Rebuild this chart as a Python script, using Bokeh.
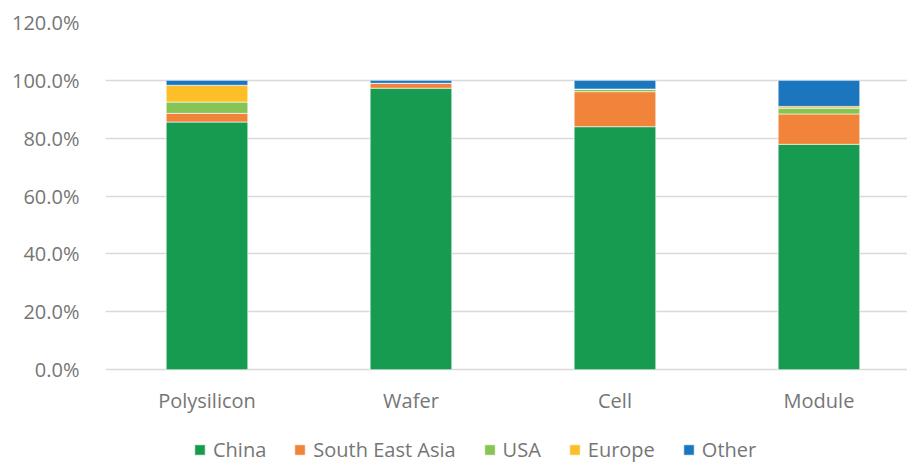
from bokeh.plotting import figure
from bokeh.models import (Range1d, FixedTicker, PrintfTickFormatter, Legend,
                          ColumnDataSource)
from bokeh.core.properties import value
from bokeh.embed import file_html
from bokeh.resources import INLINE

# Share of global manufacturing capacity by supply-chain stage (%)
stages = ["Polysilicon", "Wafer", "Cell", "Module"]
regions = ["China", "South East Asia", "USA", "Europe", "Other"]
china = [85.6, 97.3, 84.0, 77.9]
south_east_asia = [3.0, 1.7, 12.1, 10.5]
usa = [3.9, 0.0, 0.8, 2.0]
europe = [5.8, 0.0, 0.1, 0.6]
other = [1.7, 1.0, 3.0, 9.0]
y_ticks = [0, 20, 40, 60, 80, 100, 120]

colors = ["#179b50", "#f1833b", "#86c455", "#fdbe28", "#1b76be"]
FONT = "Open Sans"
TEXT_COLOR = "#767676"
GRID_COLOR = "#d9d9d9"

xs = list(range(len(stages)))
source = ColumnDataSource(dict(
    x=xs, China=china, **{"South East Asia": south_east_asia},
    USA=usa, Europe=europe, Other=other,
))

p = figure(width=907, height=463, output_backend="svg", toolbar_location=None,
           x_range=Range1d(-0.4975, 3.434), y_range=Range1d(-32.4, 120),
           min_border_left=105, min_border_right=0, min_border_top=22,
           min_border_bottom=0)
p.outline_line_color = None
p.background_fill_color = "white"
p.border_fill_color = "white"

renderers = p.vbar_stack(regions, x="x", width=0.4, source=source,
                         color=colors, line_color="white", line_width=0.6)

# y axis: percentage labels, no line or ticks
p.yaxis.ticker = FixedTicker(ticks=y_ticks)
p.yaxis.formatter = PrintfTickFormatter(format="%.1f%%")
p.yaxis.axis_line_color = None
p.yaxis.major_tick_line_color = None
p.yaxis.minor_tick_line_color = None
p.yaxis.major_label_standoff = 20
p.yaxis.major_label_text_font = FONT
p.yaxis.major_label_text_font_size = "20px"
p.yaxis.major_label_text_color = TEXT_COLOR

p.ygrid.ticker = FixedTicker(ticks=y_ticks)
p.ygrid.grid_line_color = GRID_COLOR
p.ygrid.grid_line_width = 1.5
p.xgrid.grid_line_color = None
p.xaxis.visible = False

# stage names under each bar
p.text(x=xs, y=[0] * len(xs), text=stages, text_align="center",
       text_baseline="alphabetic", y_offset=31,
       text_font=value(FONT), text_font_size="20px", text_color=TEXT_COLOR)

legend = Legend(items=[(name, [r]) for name, r in zip(regions, renderers)],
                location=(88, 0), orientation="horizontal",
                glyph_width=13, glyph_height=13, label_standoff=7, spacing=27,
                padding=0, margin=0, border_line_color=None,
                background_fill_alpha=0,
                label_text_font=FONT, label_text_font_size="20px",
                label_text_color=TEXT_COLOR)
p.add_layout(legend, "center")

open("out.html", "w").write(file_html(p, INLINE))
